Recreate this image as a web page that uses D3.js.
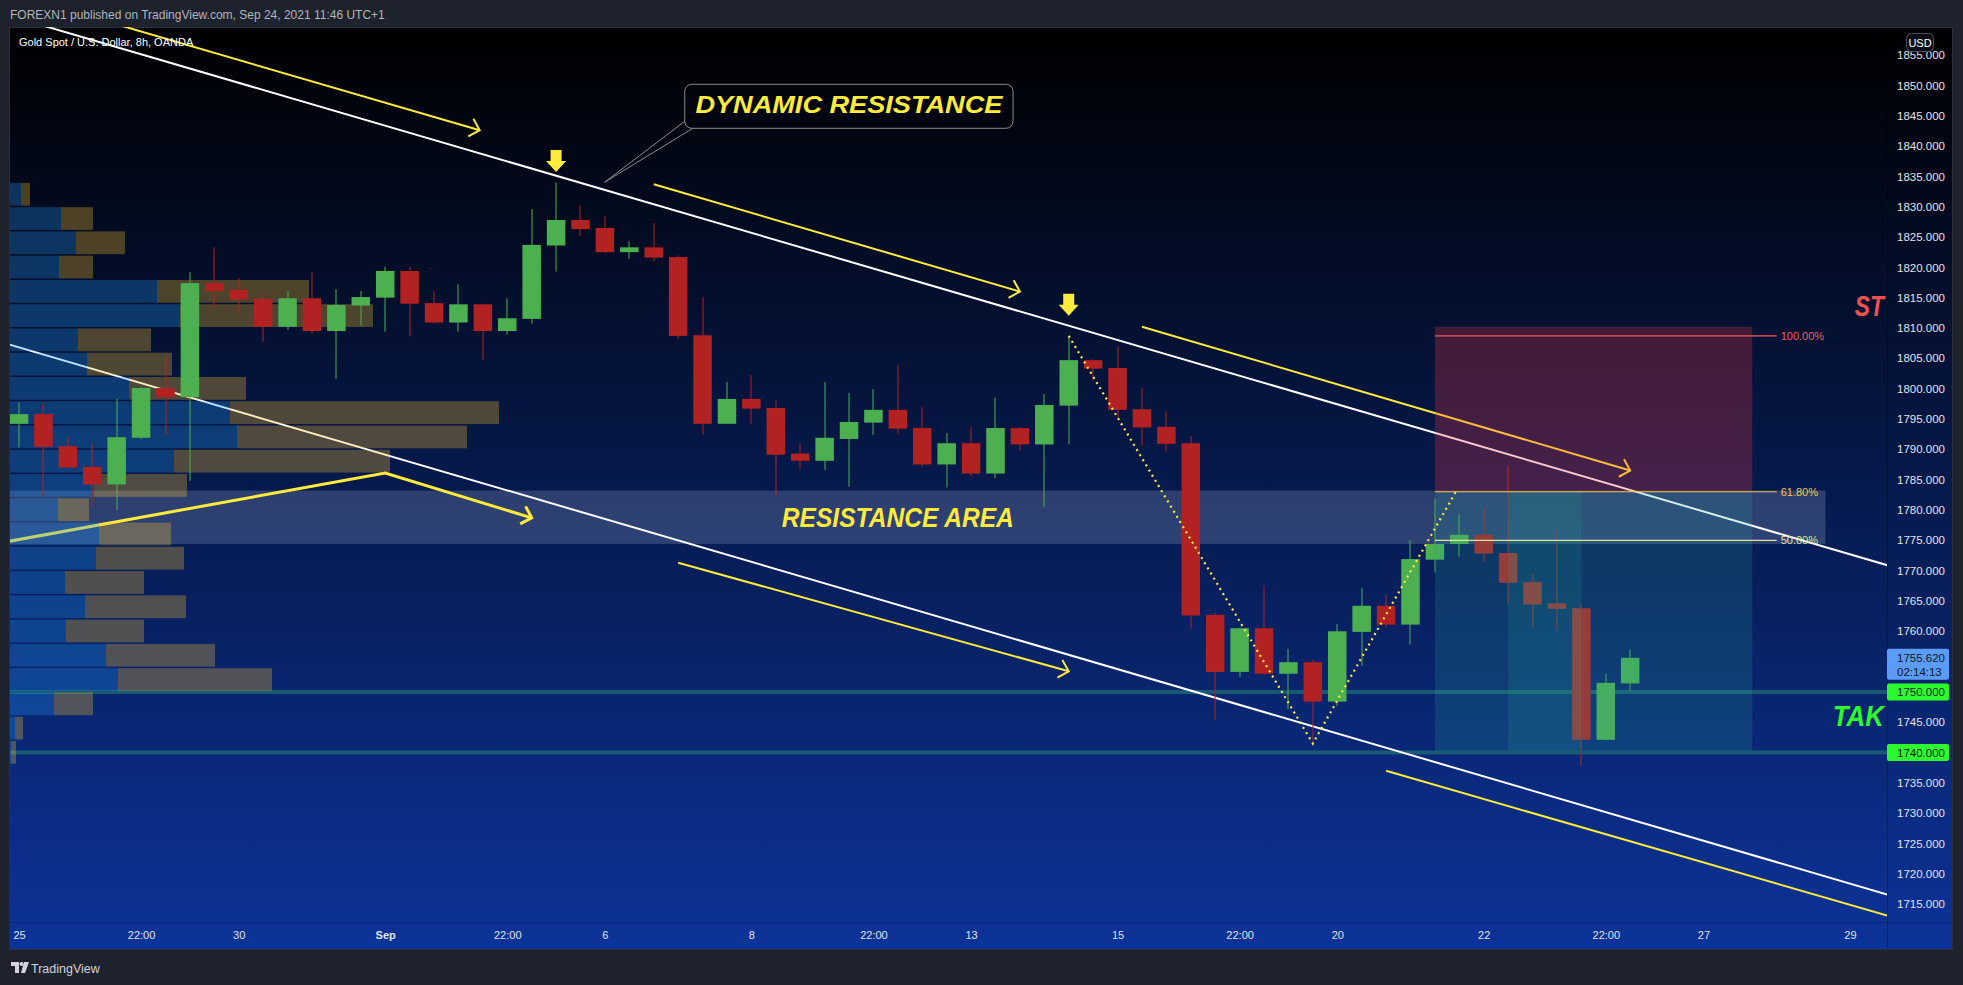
<!DOCTYPE html>
<html><head><meta charset="utf-8">
<script src="https://cdn.jsdelivr.net/npm/d3@7/dist/d3.min.js"></script>
<style>
html,body{margin:0;padding:0;background:#1e222d;overflow:hidden;}
svg{display:block;}
text{font-family:'Liberation Sans',Arial,sans-serif;}
</style></head><body>
<svg id="c" width="1963" height="985"></svg>
<script>
// ---------------- DATA ----------------
// 8h candles XAUUSD (bar index 0 = Aug 25 first bar)
const opens  = [1794.2,1795.8,1790.5,1787.1,1784.2,1791.9,1800.1,1798.6,1817.4,1816.3,1814.8,1810.2,1814.9,1809.5,1813.7,1815.0,1819.4,1814.1,1810.9,1813.9,1809.5,1811.5,1823.6,1827.8,1826.5,1822.5,1823.3,1821.7,1808.8,1794.2,1798.3,1796.8,1789.3,1788.1,1791.7,1794.4,1796.5,1793.5,1787.5,1791.0,1786.0,1793.5,1790.8,1797.2,1804.7,1803.4,1796.6,1793.7,1791.0,1762.7,1753.3,1760.5,1753.0,1754.9,1748.4,1759.9,1764.2,1761.1,1771.8,1774.4,1775.9,1772.9,1768.1,1764.6,1763.8,1742.1,1751.4];
const highs  = [1797.7,1797.7,1792.0,1791.0,1798.3,1800.3,1805.2,1819.2,1823.3,1818.2,1815.7,1816.1,1819.2,1816.4,1816.1,1820.1,1820.1,1816.1,1817.2,1814.0,1814.9,1829.6,1834.0,1830.2,1828.4,1824.3,1827.3,1822.0,1815.1,1801.1,1802.2,1798.0,1790.9,1801.1,1799.3,1799.9,1803.9,1797.0,1792.7,1793.7,1798.5,1793.7,1799.1,1808.7,1804.9,1807.0,1800.1,1796.3,1792.2,1763.0,1760.6,1767.5,1757.1,1755.3,1761.2,1767.1,1766.1,1775.0,1781.8,1779.2,1780.3,1787.3,1769.4,1776.7,1764.6,1753.0,1757.0];
const lows   = [1790.3,1782.3,1786.8,1780.6,1780.0,1791.7,1792.4,1784.8,1813.3,1812.7,1807.7,1809.7,1809.0,1801.6,1810.4,1809.4,1808.6,1810.7,1809.4,1804.8,1808.9,1810.7,1819.3,1825.2,1822.4,1821.4,1821.0,1808.2,1792.4,1794.2,1794.2,1782.3,1786.8,1786.6,1783.8,1792.4,1792.6,1787.1,1783.7,1785.6,1785.2,1789.8,1780.5,1790.8,1801.3,1795.2,1790.6,1789.6,1760.4,1745.3,1752.5,1752.7,1747.2,1741.3,1747.7,1754.3,1760.7,1757.8,1769.7,1772.3,1771.5,1764.6,1760.8,1760.1,1737.7,1742.1,1750.2];
const closes = [1795.8,1790.4,1787.0,1784.2,1792.0,1800.1,1798.6,1817.4,1816.1,1814.7,1810.2,1814.9,1809.5,1813.8,1815.1,1819.4,1814.0,1810.9,1813.9,1809.5,1811.6,1823.7,1827.8,1826.3,1822.5,1823.3,1821.6,1808.7,1794.2,1798.3,1796.7,1789.1,1788.1,1791.9,1794.5,1796.5,1793.4,1787.5,1791.0,1786.0,1793.5,1790.8,1797.3,1804.7,1803.3,1796.5,1793.6,1790.9,1762.6,1753.3,1760.5,1753.0,1754.9,1748.4,1760.0,1764.2,1761.1,1771.9,1774.4,1775.9,1772.8,1768.0,1764.4,1763.7,1742.1,1751.5,1755.62];

// time axis
const timeTickIdx    = [0,5,9,15,20,24,30,35,39,45,50,54,60,65,69,75];
const timeTickLabels = ["25","22:00","30","Sep","22:00","6","8","22:00","13","15","22:00","20","22","22:00","27","29"];
// price axis (1740/1750/1755 are shown by the price tags)
const priceTicks = [1715,1720,1725,1730,1735,1745,1760,1765,1770,1775,1780,1785,1790,1795,1800,1805,1810,1815,1820,1825,1830,1835,1840,1845,1850,1855];

// volume profile rows (top price of each 4-unit row) and up/down volume
const vpRowTop  = [1834,1830,1826,1822,1818,1814,1810,1806,1802,1798,1794,1790,1786,1782,1778,1774,1770,1766,1762,1758,1754,1750,1746,1742];
const vpUp      = [11,51,66,49,147,170,68,77,119,220,227,164,84,48,89,86,55,75,56,96,108,44,5,1];
const vpDown    = [9,32,49,34,152,193,73,85,117,269,230,216,93,31,72,88,79,101,78,109,154,39,8,5];

// drawings (bar index, price)
const channelUpper = [[-5,1866.9],[80,1766.8]];
const channelLower = [[-5,1812.7],[80,1712.5]];
const arrowLines = [
  [[2,1862.4],[18.87,1842.6]],
  [[26,1833.7],[41,1816.0]],
  [[46,1810.2],[66,1786.5]],
  [[-1,1774.4],[15,1786.1],[21,1778.7]],
  [[27,1771.3],[43,1753.4]]
];
const arrowNoHead = [[56,1737.0],[80,1709.1]];
const zigzag = [[43,1808.7],[53,1741.5],[58.9,1783.3]];
const downArrows = [[22,1835.7],[43,1812.0]];
const resistanceArea = {from:-2, to:74, top:1783.2, bottom:1774.4};
const hLevels = [1750,1740];
const fibLevels = [1808.7,1783.0,1775.0];
const fibLabels = ["100.00%","61.80%","50.00%"];
const fibSpan = [58,72];
const positionBox = {from:58, to:71, stop:1810.2, entry:1783.0, target:1740.3};
const positionFill = [61,64];
const callout = {i0:27.27, p0:1850.17, i1:40.72, p1:1842.92, tipI:23.98, tipP:1834.0, text:"DYNAMIC RESISTANCE"};
const stopLabel = {i:75.2, p:1812.0, text:"ST"};
const takeLabel = {i:74.3, p:1744.4, text:"TAK"};
const lastPrice = 1755.62;
const countdown = "02:14:13";

// ---------------- LAYOUT ----------------
const W=1963,H=985;
const plot={l:10,r:1887,t:27,b:922};
const x=d3.scaleLinear().domain([-0.37,76.52]).range([plot.l,plot.r]);
const y=d3.scaleLinear().domain([1712.07,1859.62]).range([plot.b,plot.t]);
const vx=d3.scaleLinear().domain([0,500]).range([0,500]);
const bodyW=18.5;

const svg=d3.select('#c');
const defs=svg.append('defs');
const grad=defs.append('linearGradient').attr('id','bg').attr('x1',0).attr('y1',0).attr('x2',0).attr('y2',1);
grad.append('stop').attr('offset','0%').attr('stop-color','#000000');
grad.append('stop').attr('offset','100%').attr('stop-color','#0c3399');
defs.append('clipPath').attr('id','pc').append('rect')
  .attr('x',plot.l).attr('y',plot.t).attr('width',plot.r-plot.l).attr('height',plot.b-plot.t);

svg.append('rect').attr('width',W).attr('height',H).attr('fill','#1e222d');
svg.append('rect').attr('x',9.5).attr('y',27.5).attr('width',1943).attr('height',922)
  .attr('fill','url(#bg)').attr('stroke','#2a2e39');

// header
svg.append('text').attr('x',10).attr('y',19).attr('fill','#b2b5be').attr('font-size',12)
  .text('FOREXN1 published on TradingView.com, Sep 24, 2021 11:46 UTC+1');

const g=svg.append('g').attr('clip-path','url(#pc)');
const line=d3.line().x(d=>x(d[0])).y(d=>y(d[1]));

// resistance area
g.append('rect').attr('x',x(resistanceArea.from)).attr('width',x(resistanceArea.to)-x(resistanceArea.from))
  .attr('y',y(resistanceArea.top)).attr('height',y(resistanceArea.bottom)-y(resistanceArea.top))
  .attr('fill','rgba(150,165,205,0.27)');

// horizontal levels
g.selectAll('.hl').data(hLevels).join('line')
  .attr('x1',plot.l).attr('x2',plot.r).attr('y1',d=>y(d)).attr('y2',d=>y(d))
  .attr('stroke','#1b6472').attr('stroke-width',4).attr('opacity',0.85);

// channel lines
[channelUpper,channelLower].forEach(c=>{
  g.append('path').attr('d',line(c)).attr('stroke','#ffffff').attr('stroke-width',2).attr('fill','none');
});

// yellow arrows
function arrowHead(p1,p2){
  const x1=x(p1[0]),y1=y(p1[1]),x2=x(p2[0]),y2=y(p2[1]);
  const a=Math.atan2(y2-y1,x2-x1), L=13, s=Math.PI/4;
  return `M${x2-L*Math.cos(a-s)},${y2-L*Math.sin(a-s)}L${x2},${y2}L${x2-L*Math.cos(a+s)},${y2-L*Math.sin(a+s)}`;
}
arrowLines.forEach((pts,k)=>{
  const w = k===3?3:2;
  g.append('path').attr('d',line(pts)).attr('stroke','#ffeb3b').attr('stroke-width',w).attr('fill','none');
  g.append('path').attr('d',arrowHead(pts[pts.length-2],pts[pts.length-1])).attr('stroke','#ffeb3b')
    .attr('stroke-width',w).attr('fill','none');
});
g.append('path').attr('d',line(arrowNoHead)).attr('stroke','#ffeb3b').attr('stroke-width',2).attr('fill','none');

// volume profile
const rowH=y(0)-y(4);
const vp=g.append('g');
vpRowTop.forEach((p,k)=>{
  const yt=y(p)+0.5;
  vp.append('rect').attr('x',plot.l).attr('y',yt).attr('width',vx(vpUp[k])).attr('height',rowH-1.5)
    .attr('fill','rgba(33,150,243,0.3)');
  vp.append('rect').attr('x',plot.l+vx(vpUp[k])).attr('y',yt).attr('width',vx(vpDown[k])).attr('height',rowH-1.5)
    .attr('fill','rgba(251,192,45,0.3)');
});

// candles
const idx=d3.range(opens.length);
const cg=g.append('g');
cg.selectAll('.wick').data(idx).join('rect')
  .attr('x',i=>Math.round(x(i))-0.5).attr('width',1)
  .attr('y',i=>y(highs[i])).attr('height',i=>y(lows[i])-y(highs[i]))
  .attr('fill',i=>closes[i]>=opens[i]?'#4caf50':'#b22222');
cg.selectAll('.body').data(idx).join('rect')
  .attr('x',i=>x(i)-bodyW/2).attr('width',bodyW)
  .attr('y',i=>y(Math.max(opens[i],closes[i])))
  .attr('height',i=>Math.max(1,Math.abs(y(opens[i])-y(closes[i]))))
  .attr('fill',i=>closes[i]>=opens[i]?'#4caf50':'#b22222');

// position tool
const pb=positionBox;
g.append('rect').attr('x',x(pb.from)).attr('width',x(pb.to)-x(pb.from))
  .attr('y',y(pb.stop)).attr('height',y(pb.entry)-y(pb.stop)).attr('fill','rgba(242,54,69,0.27)');
g.append('rect').attr('x',x(pb.from)).attr('width',x(pb.to)-x(pb.from))
  .attr('y',y(pb.entry)).attr('height',y(pb.target)-y(pb.entry)).attr('fill','rgba(38,166,154,0.2)');
g.append('rect').attr('x',x(positionFill[0])).attr('width',x(positionFill[1])-x(positionFill[0]))
  .attr('y',y(pb.entry)).attr('height',y(pb.target)-y(pb.entry)).attr('fill','rgba(38,166,154,0.16)');

// fib lines
const fibColors=['#f05a5a','#f7c948','#dfe39b'];
fibLevels.forEach((p,k)=>{
  g.append('line').attr('x1',x(fibSpan[0])).attr('x2',x(fibSpan[1])).attr('y1',y(p)).attr('y2',y(p))
    .attr('stroke',fibColors[k]).attr('stroke-width',1.2);
  g.append('text').attr('x',x(fibSpan[1])+4).attr('y',y(p)+4).attr('fill',fibColors[k])
    .attr('font-size',11).text(fibLabels[k]);
});

// zigzag dotted
g.append('path').attr('d',line(zigzag)).attr('stroke','#ffeb3b').attr('stroke-width',2.2)
  .attr('stroke-dasharray','2,4').attr('fill','none');

// down arrows
downArrows.forEach(d=>{
  const cx=x(d[0]), ty=y(d[1]);
  g.append('path').attr('d',`M${cx-5.5},${ty-22}H${cx+5.5}V${ty-11}H${cx+10}L${cx},${ty}L${cx-10},${ty-11}H${cx-5.5}Z`)
    .attr('fill','#ffeb3b');
});

// callout
const c=callout;
const bx0=x(c.i0),by0=y(c.p0),bx1=x(c.i1),by1=y(c.p1);
g.append('path').attr('d',`M${bx0},${by1-7}L${x(c.tipI)},${y(c.tipP)}L${bx0+8},${by1}`)
  .attr('stroke','#8a8a8a').attr('stroke-width',1).attr('fill','none');
g.append('rect').attr('x',bx0).attr('y',by0).attr('width',bx1-bx0).attr('height',by1-by0).attr('rx',7)
  .attr('fill','none').attr('stroke','#8a8a8a').attr('stroke-width',1);
g.append('text').attr('x',(bx0+bx1)/2).attr('y',by1-15.5).attr('text-anchor','middle')
  .attr('fill','#ffeb3b').attr('font-size',24).attr('font-weight','bold').attr('font-style','italic')
  .attr('textLength',307).attr('lengthAdjust','spacingAndGlyphs').text(c.text);

// resistance area label
g.append('text').attr('x',x(36)).attr('y',(y(resistanceArea.top)+y(resistanceArea.bottom))/2+10)
  .attr('text-anchor','middle').attr('fill','#ffeb3b').attr('font-size',28).attr('font-weight','bold')
  .attr('font-style','italic').attr('textLength',232).attr('lengthAdjust','spacingAndGlyphs').text('RESISTANCE AREA');

// ST / TAK labels (as visible at the price-scale edge)
g.append('text').attr('x',x(stopLabel.i)).attr('y',y(stopLabel.p)).attr('fill','#ef5350').attr('font-size',29)
  .attr('font-weight','bold').attr('font-style','italic')
  .attr('textLength',29).attr('lengthAdjust','spacingAndGlyphs').text(stopLabel.text);
g.append('text').attr('x',x(takeLabel.i)).attr('y',y(takeLabel.p)).attr('fill','#2cfa2c').attr('font-size',29)
  .attr('font-weight','bold').attr('font-style','italic')
  .attr('textLength',51).attr('lengthAdjust','spacingAndGlyphs').text(takeLabel.text);

// symbol title
svg.append('text').attr('x',19).attr('y',46).attr('fill','#ffffff').attr('font-size',11)
  .text('Gold Spot / U.S. Dollar, 8h, OANDA');

// separators
svg.append('line').attr('x1',plot.r+0.5).attr('x2',plot.r+0.5).attr('y1',28).attr('y2',949)
  .attr('stroke','rgba(0,0,0,0.25)');
svg.append('line').attr('x1',10).attr('x2',1952).attr('y1',plot.b+0.5).attr('y2',plot.b+0.5)
  .attr('stroke','rgba(0,0,0,0.25)');

// price axis
const pa=svg.append('g').attr('transform',`translate(${plot.r},0)`)
  .call(d3.axisRight(y).tickValues(priceTicks).tickSize(0).tickPadding(10).tickFormat(d3.format('.3f')));
pa.select('.domain').remove();
pa.selectAll('text').attr('fill','#e0e3eb').attr('font-size',11.5).attr('font-family',"'Liberation Sans',Arial,sans-serif");

// time axis
const ta=svg.append('g').attr('transform',`translate(0,${plot.b})`)
  .call(d3.axisBottom(x).tickValues(timeTickIdx).tickSize(0).tickPadding(9)
  .tickFormat((d,k)=>timeTickLabels[k]));
ta.select('.domain').remove();
ta.selectAll('text').attr('fill','#e0e3eb').attr('font-size',11).attr('font-family',"'Liberation Sans',Arial,sans-serif")
  .attr('font-weight',(d,k)=>timeTickLabels[k]==='Sep'?'bold':'normal');

// price tags
const tag=svg.append('g');
tag.append('rect').attr('x',plot.r).attr('y',y(lastPrice)-9).attr('width',62).attr('height',31).attr('rx',2).attr('fill','#5b9cf6');
tag.append('text').attr('x',plot.r+10).attr('y',y(lastPrice)+4).attr('fill','#131722').attr('font-size',11.5).text(lastPrice.toFixed(3));
tag.append('text').attr('x',plot.r+10).attr('y',y(lastPrice)+18).attr('fill','#131722').attr('font-size',11.5).text(countdown);
hLevels.forEach(p=>{
  tag.append('rect').attr('x',plot.r).attr('y',y(p)-8.5).attr('width',62).attr('height',17).attr('rx',2).attr('fill','#2cfa2c');
  tag.append('text').attr('x',plot.r+10).attr('y',y(p)+4).attr('fill','#131722').attr('font-size',11.5).text(p.toFixed(3));
});

// USD badge
svg.append('rect').attr('x',1906.5).attr('y',33.5).attr('width',27).attr('height',18).attr('rx',5)
  .attr('fill','#0b0d14').attr('stroke','#4a4e5a');
svg.append('text').attr('x',1920).attr('y',46.5).attr('text-anchor','middle').attr('fill','#ffffff').attr('font-size',11).text('USD');

// footer logo
const lg=svg.append('g').attr('fill','#d1d4dc');
lg.append('path').attr('d','M11,962H19V973H15V966H11Z');
lg.append('circle').attr('cx',21.5).attr('cy',964).attr('r',2);
lg.append('path').attr('d','M24,962H29L25,973H21Z');
svg.append('text').attr('x',31).attr('y',972.5).attr('fill','#d1d4dc').attr('font-size',12.5).text('TradingView');
</script>
</body></html>
